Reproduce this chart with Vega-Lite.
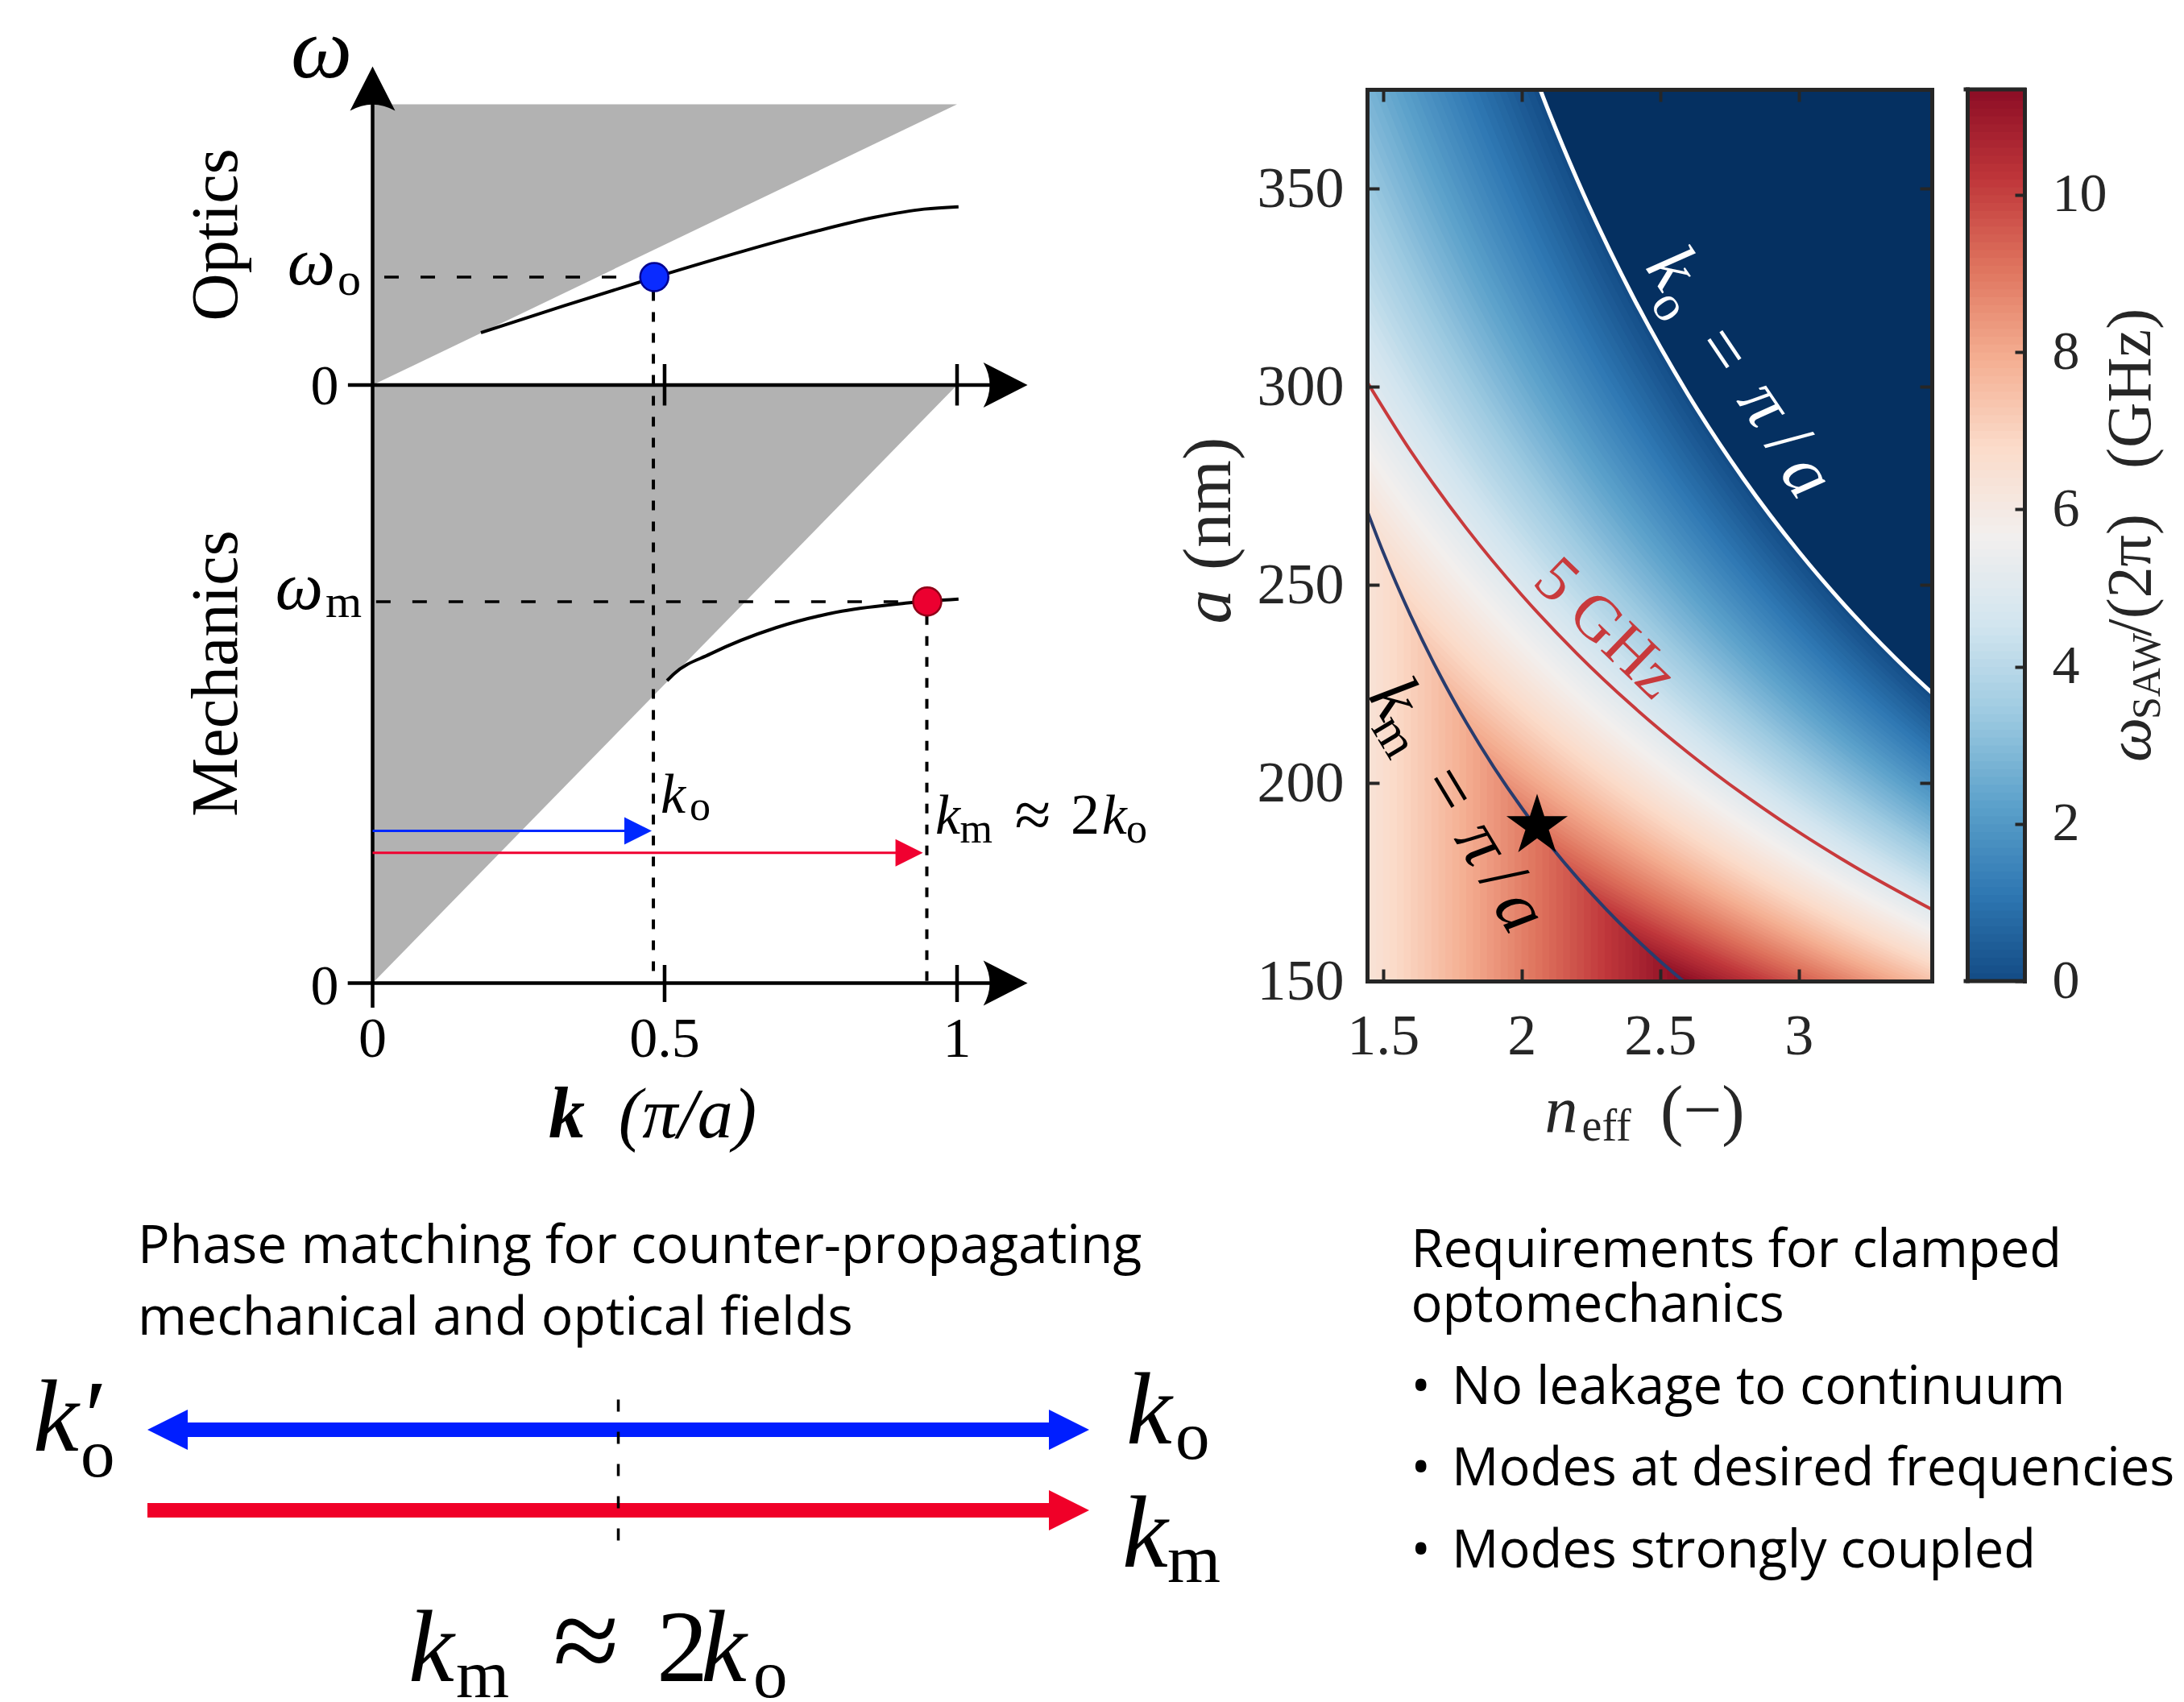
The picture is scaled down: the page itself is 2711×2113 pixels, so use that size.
{
"$schema":"https://vega.github.io/schema/vega-lite/v6.json",
"padding":0,
"background":"white",
"config":{"view":{"stroke":null},"axis":{"grid":false}},
"columns":2,
"spacing":0,
"bounds":"flush",
"concat":[
{"width":1697,"height":111,"data":{"values":[{"t":""}]},"mark":{"type":"text"},"encoding":{"text":{"field":"t"}}},
{"width":701,"height":111,"data":{"values":[{"t":""}]},"mark":{"type":"text"},"encoding":{"text":{"field":"t"}}},
{"width":1697,"height":1107,
"encoding":{"x":{"field":"x","type":"quantitative","scale":{"domain":[-0.6375,1.7016],"nice":false,"zero":false},"axis":null},
"y":{"field":"y","type":"quantitative","scale":{"domain":[0.003367,1.49428],"nice":false,"zero":false},"axis":null}},
"layer":[
{"data":{"values":[{"cone":"o","x":0,"y":1,"y2":1.4694},{"cone":"o","x":1,"y":1.4694,"y2":1.4694},{"cone":"m","x":0,"y":0,"y2":1},{"cone":"m","x":1,"y":1,"y2":1}]},
"mark":{"type":"area","color":"#b2b2b2","opacity":1},"encoding":{"y2":{"field":"y2"},"detail":{"field":"cone","type":"nominal"}}},
{"data":{"values":[{"x":0.4804,"x2":0.4804,"y":1.157,"y2":0},{"x":0.9483,"x2":0.9483,"y":0.615,"y2":0}]},
"mark":{"type":"rule","color":"black","strokeWidth":4,"strokeDash":[12,14]},"encoding":{"x2":{"field":"x2"},"y2":{"field":"y2"}}},
{"data":{"values":[{"x":0.02,"x2":0.43,"y":1.1805,"y2":1.1805},{"x":0.006,"x2":0.925,"y":0.6377,"y2":0.6377}]},
"mark":{"type":"rule","color":"black","strokeWidth":3.5,"strokeDash":[18,27]},"encoding":{"x2":{"field":"x2"},"y2":{"field":"y2"}}},
{"data":{"values":[{"band":"o","x":0.1854,"y":1.0875},{"band":"o","x":0.3274,"y":1.1324},{"band":"o","x":0.482,"y":1.1798},{"band":"o","x":0.6339,"y":1.2238},{"band":"o","x":0.7464,"y":1.254},{"band":"o","x":0.859,"y":1.2804},{"band":"o","x":0.9435,"y":1.2941},{"band":"o","x":1.0025,"y":1.298},
{"band":"m","x":0.5038,"y":0.5057},{"band":"m","x":0.5158,"y":0.5173},{"band":"m","x":0.5777,"y":0.5503},{"band":"m","x":0.6903,"y":0.5943},{"band":"m","x":0.8029,"y":0.6218},{"band":"m","x":0.9154,"y":0.6356},{"band":"m","x":1.0025,"y":0.6422}]},
"mark":{"type":"line","color":"black","strokeWidth":4,"interpolate":"monotone"},"encoding":{"detail":{"field":"band","type":"nominal"}}},
{"data":{"values":[{"x":0,"x2":0,"y":-0.041,"y2":1.5},{"x":-0.0422,"x2":1.09,"y":1,"y2":1},{"x":-0.0425,"x2":1.09,"y":0,"y2":0},{"x":0.4996,"x2":0.4996,"y":0.9657,"y2":1.035},{"x":1,"x2":1,"y":0.9657,"y2":1.035},{"x":0.4996,"x2":0.4996,"y":-0.0316,"y2":0.0303},{"x":1,"x2":1,"y":-0.0316,"y2":0.0303}]},
"mark":{"type":"rule","color":"black","strokeWidth":4.5},"encoding":{"x2":{"field":"x2"},"y2":{"field":"y2"}}},
{"data":{"values":[{"x":1.1207,"y":1},{"x":1.1207,"y":0}]},
"mark":{"type":"point","shape":"M0,0L-1.96,-1Q-1.4,0,-1.96,1Z","size":3136,"filled":true,"opacity":1,"color":"black","strokeWidth":0}},
{"data":{"values":[{"x":0,"y":1.5325}]},
"mark":{"type":"point","shape":"M0,0L-1,1.96Q0,1.4,1,1.96Z","size":3136,"filled":true,"opacity":1,"color":"black","strokeWidth":0}},
{"data":{"values":[{"x":0,"x2":0.455,"y":0.2545,"y2":0.2545}]},"mark":{"type":"rule","color":"#0028ff","strokeWidth":3},"encoding":{"x2":{"field":"x2"},"y2":{"field":"y2"}}},
{"data":{"values":[{"x":0,"x2":0.915,"y":0.218,"y2":0.218}]},"mark":{"type":"rule","color":"#f00030","strokeWidth":3},"encoding":{"x2":{"field":"x2"},"y2":{"field":"y2"}}},
{"data":{"values":[{"x":0.4776,"y":0.2545}]},"mark":{"type":"point","shape":"M0,0L-2,-1L-2,1Z","size":1156,"filled":true,"opacity":1,"color":"#0028ff","strokeWidth":0}},
{"data":{"values":[{"x":0.9415,"y":0.218}]},"mark":{"type":"point","shape":"M0,0L-2,-1L-2,1Z","size":1156,"filled":true,"opacity":1,"color":"#f00030","strokeWidth":0}},
{"data":{"values":[{"x":0.482,"y":1.1805}]},"mark":{"type":"point","shape":"circle","size":1225,"filled":true,"opacity":1,"fill":"#0a2bff","stroke":"#000090","strokeWidth":2.5}},
{"data":{"values":[{"x":0.949,"y":0.6382}]},"mark":{"type":"point","shape":"circle","size":1225,"filled":true,"opacity":1,"fill":"#ec0030","stroke":"#900018","strokeWidth":2.5}},
{"data":{"values":[{"x":-0.0875,"y":1.5145,"t":"ω"}]},"mark":{"type":"text","font":"Liberation Serif","fontSize":108,"fontStyle":"italic","align":"center","baseline":"alphabetic","color":"black"},"encoding":{"text":{"field":"t"}}},
{"data":{"values":[{"x":-0.0641,"y":1.1684,"t":"ω"},{"x":-0.0848,"y":0.6256,"t":"ω"}]},"mark":{"type":"text","font":"Liberation Serif","fontSize":84,"fontStyle":"italic","align":"right","baseline":"alphabetic","color":"black"},"encoding":{"text":{"field":"t"}}},
{"data":{"values":[{"x":-0.06,"y":1.1508,"t":"o"},{"x":-0.0806,"y":0.6121,"t":"m"}]},"mark":{"type":"text","font":"Liberation Serif","fontSize":58,"align":"left","baseline":"alphabetic","color":"black"},"encoding":{"text":{"field":"t"}}},
{"data":{"values":[{"x":-0.082,"y":0.9677,"t":"0"},{"x":-0.082,"y":-0.0357,"t":"0"},{"x":0,"y":-0.1232,"t":"0"},{"x":0.4996,"y":-0.1232,"t":"0.5"},{"x":1,"y":-0.1232,"t":"1"}]},"mark":{"type":"text","font":"Liberation Serif","fontSize":70,"align":"center","baseline":"alphabetic","color":"black"},"encoding":{"text":{"field":"t"}}},
{"data":{"values":[{"x":-0.2323,"y":1.2512,"t":"Optics"},{"x":-0.2323,"y":0.5178,"t":"Mechanics"}]},"mark":{"type":"text","font":"Liberation Serif","fontSize":82,"angle":270,"align":"center","baseline":"alphabetic","color":"black"},"encoding":{"text":{"field":"t"}}},
{"data":{"values":[{"x":0.4927,"y":0.2848,"t":"k"},{"x":0.9628,"y":0.2498,"t":"k"},{"x":1.2476,"y":0.2498,"t":"k"}]},"mark":{"type":"text","font":"Liberation Serif","fontSize":70,"fontStyle":"italic","align":"left","baseline":"alphabetic","color":"black"},"encoding":{"text":{"field":"t"}}},
{"data":{"values":[{"x":0.5424,"y":0.2734,"t":"o"},{"x":1.0048,"y":0.2356,"t":"m"},{"x":1.2894,"y":0.2356,"t":"o"}]},"mark":{"type":"text","font":"Liberation Serif","fontSize":52,"align":"left","baseline":"alphabetic","color":"black"},"encoding":{"text":{"field":"t"}}},
{"data":{"values":[{"x":1.0985,"y":0.2444,"t":"≈"}]},"mark":{"type":"text","font":"Liberation Serif","fontSize":82,"align":"left","baseline":"alphabetic","color":"black"},"encoding":{"text":{"field":"t"}}},
{"data":{"values":[{"x":1.1944,"y":0.2498,"t":"2"}]},"mark":{"type":"text","font":"Liberation Serif","fontSize":72,"align":"left","baseline":"alphabetic","color":"black"},"encoding":{"text":{"field":"t"}}},
{"data":{"values":[{"x":0.3012,"y":-0.2579,"t":"k"}]},"mark":{"type":"text","font":"Liberation Serif","fontSize":90,"fontStyle":"italic","fontWeight":"bold","align":"left","baseline":"alphabetic","color":"black"},"encoding":{"text":{"field":"t"}}},
{"data":{"values":[{"x":0.6568,"y":-0.2579,"t":"(π/a)"}]},"mark":{"type":"text","font":"Liberation Serif","fontSize":88,"fontStyle":"italic","align":"right","baseline":"alphabetic","color":"black"},"encoding":{"text":{"field":"t"}}}
]},
{"width":701,"height":1107,
"resolve":{"scale":{"x":"independent","y":"independent"},"axis":{"x":"independent","y":"independent"}},
"layer":[
{"resolve":{"axis":{"x":"independent","y":"independent"}},
"encoding":{"x":{"field":"n","type":"quantitative","scale":{"domain":[1.4427,3.4799],"nice":false,"zero":false},"axis":null},
"y":{"field":"a","type":"quantitative","scale":{"domain":[150,375],"nice":false,"zero":false},"axis":null}},
"layer":[
{"data":{"values":[{"n":1.4,"a":380},{"n":3.6,"a":380}]},"mark":{"type":"area","color":"#053061","clip":true,"opacity":1},"encoding":{"y2":{"datum":150}}},
{"data":{"values":[
{"j":0,"f":0.06,"n":1.4,"a":553.6},{"j":0,"f":0.06,"n":1.6,"a":484.4},{"j":0,"f":0.06,"n":1.8,"a":430.6},{"j":0,"f":0.06,"n":2,"a":387.5},{"j":0,"f":0.06,"n":2.2,"a":352.3},{"j":0,"f":0.06,"n":2.5,"a":310},{"j":0,"f":0.06,"n":2.8,"a":276.8},{"j":0,"f":0.06,"n":3.1,"a":250},{"j":0,"f":0.06,"n":3.5,"a":221.4},
{"j":0.5,"f":0.17,"n":1.375,"a":553.6},{"j":0.5,"f":0.17,"n":1.575,"a":484.4},{"j":0.5,"f":0.17,"n":1.775,"a":430.6},{"j":0.5,"f":0.17,"n":1.975,"a":387.5},{"j":0.5,"f":0.17,"n":2.175,"a":352.3},{"j":0.5,"f":0.17,"n":2.475,"a":310},{"j":0.5,"f":0.17,"n":2.775,"a":276.8},{"j":0.5,"f":0.17,"n":3.075,"a":250},{"j":0.5,"f":0.17,"n":3.475,"a":221.4},{"j":0.5,"f":0.17,"n":3.525,"a":218.3},
{"j":1,"f":0.28,"n":1.4,"a":534.5},{"j":1,"f":0.28,"n":1.6,"a":469.7},{"j":1,"f":0.28,"n":1.8,"a":418.9},{"j":1,"f":0.28,"n":2,"a":378},{"j":1,"f":0.28,"n":2.2,"a":344.4},{"j":1,"f":0.28,"n":2.5,"a":303.9},{"j":1,"f":0.28,"n":2.8,"a":271.9},{"j":1,"f":0.28,"n":3.1,"a":246},{"j":1,"f":0.28,"n":3.5,"a":218.3},
{"j":1.5,"f":0.39,"n":1.375,"a":534.5},{"j":1.5,"f":0.39,"n":1.575,"a":469.7},{"j":1.5,"f":0.39,"n":1.775,"a":418.9},{"j":1.5,"f":0.39,"n":1.975,"a":378},{"j":1.5,"f":0.39,"n":2.175,"a":344.4},{"j":1.5,"f":0.39,"n":2.475,"a":303.9},{"j":1.5,"f":0.39,"n":2.775,"a":271.9},{"j":1.5,"f":0.39,"n":3.075,"a":246},{"j":1.5,"f":0.39,"n":3.475,"a":218.3},{"j":1.5,"f":0.39,"n":3.525,"a":215.3},
{"j":2,"f":0.5,"n":1.4,"a":516.7},{"j":2,"f":0.5,"n":1.6,"a":455.9},{"j":2,"f":0.5,"n":1.8,"a":407.9},{"j":2,"f":0.5,"n":2,"a":369},{"j":2,"f":0.5,"n":2.2,"a":337},{"j":2,"f":0.5,"n":2.5,"a":298.1},{"j":2,"f":0.5,"n":2.8,"a":267.2},{"j":2,"f":0.5,"n":3.1,"a":242.2},{"j":2,"f":0.5,"n":3.5,"a":215.3},
{"j":2.5,"f":0.61,"n":1.375,"a":516.7},{"j":2.5,"f":0.61,"n":1.575,"a":455.9},{"j":2.5,"f":0.61,"n":1.775,"a":407.9},{"j":2.5,"f":0.61,"n":1.975,"a":369},{"j":2.5,"f":0.61,"n":2.175,"a":337},{"j":2.5,"f":0.61,"n":2.475,"a":298.1},{"j":2.5,"f":0.61,"n":2.775,"a":267.2},{"j":2.5,"f":0.61,"n":3.075,"a":242.2},{"j":2.5,"f":0.61,"n":3.475,"a":215.3},{"j":2.5,"f":0.61,"n":3.525,"a":212.3},
{"j":3,"f":0.72,"n":1.4,"a":500},{"j":3,"f":0.72,"n":1.6,"a":442.9},{"j":3,"f":0.72,"n":1.8,"a":397.4},{"j":3,"f":0.72,"n":2,"a":360.5},{"j":3,"f":0.72,"n":2.2,"a":329.8},{"j":3,"f":0.72,"n":2.5,"a":292.5},{"j":3,"f":0.72,"n":2.8,"a":262.7},{"j":3,"f":0.72,"n":3.1,"a":238.5},{"j":3,"f":0.72,"n":3.5,"a":212.3},
{"j":3.5,"f":0.83,"n":1.375,"a":500},{"j":3.5,"f":0.83,"n":1.575,"a":442.9},{"j":3.5,"f":0.83,"n":1.775,"a":397.4},{"j":3.5,"f":0.83,"n":1.975,"a":360.5},{"j":3.5,"f":0.83,"n":2.175,"a":329.8},{"j":3.5,"f":0.83,"n":2.475,"a":292.5},{"j":3.5,"f":0.83,"n":2.775,"a":262.7},{"j":3.5,"f":0.83,"n":3.075,"a":238.5},{"j":3.5,"f":0.83,"n":3.475,"a":212.3},{"j":3.5,"f":0.83,"n":3.525,"a":209.5},
{"j":4,"f":0.94,"n":1.4,"a":484.4},{"j":4,"f":0.94,"n":1.6,"a":430.6},{"j":4,"f":0.94,"n":1.8,"a":387.5},{"j":4,"f":0.94,"n":2,"a":352.3},{"j":4,"f":0.94,"n":2.2,"a":322.9},{"j":4,"f":0.94,"n":2.5,"a":287},{"j":4,"f":0.94,"n":2.8,"a":258.3},{"j":4,"f":0.94,"n":3.1,"a":234.8},{"j":4,"f":0.94,"n":3.5,"a":209.5},
{"j":4.5,"f":1.05,"n":1.375,"a":484.4},{"j":4.5,"f":1.05,"n":1.575,"a":430.6},{"j":4.5,"f":1.05,"n":1.775,"a":387.5},{"j":4.5,"f":1.05,"n":1.975,"a":352.3},{"j":4.5,"f":1.05,"n":2.175,"a":322.9},{"j":4.5,"f":1.05,"n":2.475,"a":287},{"j":4.5,"f":1.05,"n":2.775,"a":258.3},{"j":4.5,"f":1.05,"n":3.075,"a":234.8},{"j":4.5,"f":1.05,"n":3.475,"a":209.5},{"j":4.5,"f":1.05,"n":3.525,"a":206.7},
{"j":5,"f":1.16,"n":1.4,"a":469.7},{"j":5,"f":1.16,"n":1.6,"a":418.9},{"j":5,"f":1.16,"n":1.8,"a":378},{"j":5,"f":1.16,"n":2,"a":344.4},{"j":5,"f":1.16,"n":2.2,"a":316.3},{"j":5,"f":1.16,"n":2.5,"a":281.8},{"j":5,"f":1.16,"n":2.8,"a":254.1},{"j":5,"f":1.16,"n":3.1,"a":231.3},{"j":5,"f":1.16,"n":3.5,"a":206.7},
{"j":5.5,"f":1.27,"n":1.375,"a":469.7},{"j":5.5,"f":1.27,"n":1.575,"a":418.9},{"j":5.5,"f":1.27,"n":1.775,"a":378},{"j":5.5,"f":1.27,"n":1.975,"a":344.4},{"j":5.5,"f":1.27,"n":2.175,"a":316.3},{"j":5.5,"f":1.27,"n":2.475,"a":281.8},{"j":5.5,"f":1.27,"n":2.775,"a":254.1},{"j":5.5,"f":1.27,"n":3.075,"a":231.3},{"j":5.5,"f":1.27,"n":3.475,"a":206.7},{"j":5.5,"f":1.27,"n":3.525,"a":203.9},
{"j":6,"f":1.38,"n":1.4,"a":455.9},{"j":6,"f":1.38,"n":1.6,"a":407.9},{"j":6,"f":1.38,"n":1.8,"a":369},{"j":6,"f":1.38,"n":2,"a":337},{"j":6,"f":1.38,"n":2.2,"a":310},{"j":6,"f":1.38,"n":2.5,"a":276.8},{"j":6,"f":1.38,"n":2.8,"a":250},{"j":6,"f":1.38,"n":3.1,"a":227.9},{"j":6,"f":1.38,"n":3.5,"a":203.9},
{"j":6.5,"f":1.49,"n":1.375,"a":455.9},{"j":6.5,"f":1.49,"n":1.575,"a":407.9},{"j":6.5,"f":1.49,"n":1.775,"a":369},{"j":6.5,"f":1.49,"n":1.975,"a":337},{"j":6.5,"f":1.49,"n":2.175,"a":310},{"j":6.5,"f":1.49,"n":2.475,"a":276.8},{"j":6.5,"f":1.49,"n":2.775,"a":250},{"j":6.5,"f":1.49,"n":3.075,"a":227.9},{"j":6.5,"f":1.49,"n":3.475,"a":203.9},{"j":6.5,"f":1.49,"n":3.525,"a":201.3},
{"j":7,"f":1.6,"n":1.4,"a":442.9},{"j":7,"f":1.6,"n":1.6,"a":397.4},{"j":7,"f":1.6,"n":1.8,"a":360.5},{"j":7,"f":1.6,"n":2,"a":329.8},{"j":7,"f":1.6,"n":2.2,"a":303.9},{"j":7,"f":1.6,"n":2.5,"a":271.9},{"j":7,"f":1.6,"n":2.8,"a":246},{"j":7,"f":1.6,"n":3.1,"a":224.6},{"j":7,"f":1.6,"n":3.5,"a":201.3},
{"j":7.5,"f":1.71,"n":1.375,"a":442.9},{"j":7.5,"f":1.71,"n":1.575,"a":397.4},{"j":7.5,"f":1.71,"n":1.775,"a":360.5},{"j":7.5,"f":1.71,"n":1.975,"a":329.8},{"j":7.5,"f":1.71,"n":2.175,"a":303.9},{"j":7.5,"f":1.71,"n":2.475,"a":271.9},{"j":7.5,"f":1.71,"n":2.775,"a":246},{"j":7.5,"f":1.71,"n":3.075,"a":224.6},{"j":7.5,"f":1.71,"n":3.475,"a":201.3},{"j":7.5,"f":1.71,"n":3.525,"a":198.7},
{"j":8,"f":1.82,"n":1.4,"a":430.6},{"j":8,"f":1.82,"n":1.6,"a":387.5},{"j":8,"f":1.82,"n":1.8,"a":352.3},{"j":8,"f":1.82,"n":2,"a":322.9},{"j":8,"f":1.82,"n":2.2,"a":298.1},{"j":8,"f":1.82,"n":2.5,"a":267.2},{"j":8,"f":1.82,"n":2.8,"a":242.2},{"j":8,"f":1.82,"n":3.1,"a":221.4},{"j":8,"f":1.82,"n":3.5,"a":198.7},
{"j":8.5,"f":1.93,"n":1.375,"a":430.6},{"j":8.5,"f":1.93,"n":1.575,"a":387.5},{"j":8.5,"f":1.93,"n":1.775,"a":352.3},{"j":8.5,"f":1.93,"n":1.975,"a":322.9},{"j":8.5,"f":1.93,"n":2.175,"a":298.1},{"j":8.5,"f":1.93,"n":2.475,"a":267.2},{"j":8.5,"f":1.93,"n":2.775,"a":242.2},{"j":8.5,"f":1.93,"n":3.075,"a":221.4},{"j":8.5,"f":1.93,"n":3.475,"a":198.7},{"j":8.5,"f":1.93,"n":3.525,"a":196.2},
{"j":9,"f":2.04,"n":1.4,"a":418.9},{"j":9,"f":2.04,"n":1.6,"a":378},{"j":9,"f":2.04,"n":1.8,"a":344.4},{"j":9,"f":2.04,"n":2,"a":316.3},{"j":9,"f":2.04,"n":2.2,"a":292.5},{"j":9,"f":2.04,"n":2.5,"a":262.7},{"j":9,"f":2.04,"n":2.8,"a":238.5},{"j":9,"f":2.04,"n":3.1,"a":218.3},{"j":9,"f":2.04,"n":3.5,"a":196.2},
{"j":9.5,"f":2.15,"n":1.375,"a":418.9},{"j":9.5,"f":2.15,"n":1.575,"a":378},{"j":9.5,"f":2.15,"n":1.775,"a":344.4},{"j":9.5,"f":2.15,"n":1.975,"a":316.3},{"j":9.5,"f":2.15,"n":2.175,"a":292.5},{"j":9.5,"f":2.15,"n":2.475,"a":262.7},{"j":9.5,"f":2.15,"n":2.775,"a":238.5},{"j":9.5,"f":2.15,"n":3.075,"a":218.3},{"j":9.5,"f":2.15,"n":3.475,"a":196.2},{"j":9.5,"f":2.15,"n":3.525,"a":193.8},
{"j":10,"f":2.26,"n":1.4,"a":407.9},{"j":10,"f":2.26,"n":1.6,"a":369},{"j":10,"f":2.26,"n":1.8,"a":337},{"j":10,"f":2.26,"n":2,"a":310},{"j":10,"f":2.26,"n":2.2,"a":287},{"j":10,"f":2.26,"n":2.5,"a":258.3},{"j":10,"f":2.26,"n":2.8,"a":234.8},{"j":10,"f":2.26,"n":3.1,"a":215.3},{"j":10,"f":2.26,"n":3.5,"a":193.8},
{"j":10.5,"f":2.38,"n":1.375,"a":407.9},{"j":10.5,"f":2.38,"n":1.575,"a":369},{"j":10.5,"f":2.38,"n":1.775,"a":337},{"j":10.5,"f":2.38,"n":1.975,"a":310},{"j":10.5,"f":2.38,"n":2.175,"a":287},{"j":10.5,"f":2.38,"n":2.475,"a":258.3},{"j":10.5,"f":2.38,"n":2.775,"a":234.8},{"j":10.5,"f":2.38,"n":3.075,"a":215.3},{"j":10.5,"f":2.38,"n":3.475,"a":193.8},{"j":10.5,"f":2.38,"n":3.525,"a":191.4},
{"j":11,"f":2.48,"n":1.4,"a":397.4},{"j":11,"f":2.48,"n":1.6,"a":360.5},{"j":11,"f":2.48,"n":1.8,"a":329.8},{"j":11,"f":2.48,"n":2,"a":303.9},{"j":11,"f":2.48,"n":2.2,"a":281.8},{"j":11,"f":2.48,"n":2.5,"a":254.1},{"j":11,"f":2.48,"n":2.8,"a":231.3},{"j":11,"f":2.48,"n":3.1,"a":212.3},{"j":11,"f":2.48,"n":3.5,"a":191.4},
{"j":11.5,"f":2.6,"n":1.375,"a":397.4},{"j":11.5,"f":2.6,"n":1.575,"a":360.5},{"j":11.5,"f":2.6,"n":1.775,"a":329.8},{"j":11.5,"f":2.6,"n":1.975,"a":303.9},{"j":11.5,"f":2.6,"n":2.175,"a":281.8},{"j":11.5,"f":2.6,"n":2.475,"a":254.1},{"j":11.5,"f":2.6,"n":2.775,"a":231.3},{"j":11.5,"f":2.6,"n":3.075,"a":212.3},{"j":11.5,"f":2.6,"n":3.475,"a":191.4},{"j":11.5,"f":2.6,"n":3.525,"a":189},
{"j":12,"f":2.71,"n":1.4,"a":387.5},{"j":12,"f":2.71,"n":1.6,"a":352.3},{"j":12,"f":2.71,"n":1.8,"a":322.9},{"j":12,"f":2.71,"n":2,"a":298.1},{"j":12,"f":2.71,"n":2.2,"a":276.8},{"j":12,"f":2.71,"n":2.5,"a":250},{"j":12,"f":2.71,"n":2.8,"a":227.9},{"j":12,"f":2.71,"n":3.1,"a":209.5},{"j":12,"f":2.71,"n":3.5,"a":189},
{"j":12.5,"f":2.82,"n":1.375,"a":387.5},{"j":12.5,"f":2.82,"n":1.575,"a":352.3},{"j":12.5,"f":2.82,"n":1.775,"a":322.9},{"j":12.5,"f":2.82,"n":1.975,"a":298.1},{"j":12.5,"f":2.82,"n":2.175,"a":276.8},{"j":12.5,"f":2.82,"n":2.475,"a":250},{"j":12.5,"f":2.82,"n":2.775,"a":227.9},{"j":12.5,"f":2.82,"n":3.075,"a":209.5},{"j":12.5,"f":2.82,"n":3.475,"a":189},{"j":12.5,"f":2.82,"n":3.525,"a":186.7},
{"j":13,"f":2.93,"n":1.4,"a":378},{"j":13,"f":2.93,"n":1.6,"a":344.4},{"j":13,"f":2.93,"n":1.8,"a":316.3},{"j":13,"f":2.93,"n":2,"a":292.5},{"j":13,"f":2.93,"n":2.2,"a":271.9},{"j":13,"f":2.93,"n":2.5,"a":246},{"j":13,"f":2.93,"n":2.8,"a":224.6},{"j":13,"f":2.93,"n":3.1,"a":206.7},{"j":13,"f":2.93,"n":3.5,"a":186.7},
{"j":13.5,"f":3.04,"n":1.375,"a":378},{"j":13.5,"f":3.04,"n":1.575,"a":344.4},{"j":13.5,"f":3.04,"n":1.775,"a":316.3},{"j":13.5,"f":3.04,"n":1.975,"a":292.5},{"j":13.5,"f":3.04,"n":2.175,"a":271.9},{"j":13.5,"f":3.04,"n":2.475,"a":246},{"j":13.5,"f":3.04,"n":2.775,"a":224.6},{"j":13.5,"f":3.04,"n":3.075,"a":206.7},{"j":13.5,"f":3.04,"n":3.475,"a":186.7},{"j":13.5,"f":3.04,"n":3.525,"a":184.5},
{"j":14,"f":3.15,"n":1.4,"a":369},{"j":14,"f":3.15,"n":1.6,"a":337},{"j":14,"f":3.15,"n":1.8,"a":310},{"j":14,"f":3.15,"n":2,"a":287},{"j":14,"f":3.15,"n":2.2,"a":267.2},{"j":14,"f":3.15,"n":2.5,"a":242.2},{"j":14,"f":3.15,"n":2.8,"a":221.4},{"j":14,"f":3.15,"n":3.1,"a":203.9},{"j":14,"f":3.15,"n":3.5,"a":184.5},
{"j":14.5,"f":3.26,"n":1.375,"a":369},{"j":14.5,"f":3.26,"n":1.575,"a":337},{"j":14.5,"f":3.26,"n":1.775,"a":310},{"j":14.5,"f":3.26,"n":1.975,"a":287},{"j":14.5,"f":3.26,"n":2.175,"a":267.2},{"j":14.5,"f":3.26,"n":2.475,"a":242.2},{"j":14.5,"f":3.26,"n":2.775,"a":221.4},{"j":14.5,"f":3.26,"n":3.075,"a":203.9},{"j":14.5,"f":3.26,"n":3.475,"a":184.5},{"j":14.5,"f":3.26,"n":3.525,"a":182.4},
{"j":15,"f":3.37,"n":1.4,"a":360.5},{"j":15,"f":3.37,"n":1.6,"a":329.8},{"j":15,"f":3.37,"n":1.8,"a":303.9},{"j":15,"f":3.37,"n":2,"a":281.8},{"j":15,"f":3.37,"n":2.2,"a":262.7},{"j":15,"f":3.37,"n":2.5,"a":238.5},{"j":15,"f":3.37,"n":2.8,"a":218.3},{"j":15,"f":3.37,"n":3.1,"a":201.3},{"j":15,"f":3.37,"n":3.5,"a":182.4},
{"j":15.5,"f":3.48,"n":1.375,"a":360.5},{"j":15.5,"f":3.48,"n":1.575,"a":329.8},{"j":15.5,"f":3.48,"n":1.775,"a":303.9},{"j":15.5,"f":3.48,"n":1.975,"a":281.8},{"j":15.5,"f":3.48,"n":2.175,"a":262.7},{"j":15.5,"f":3.48,"n":2.475,"a":238.5},{"j":15.5,"f":3.48,"n":2.775,"a":218.3},{"j":15.5,"f":3.48,"n":3.075,"a":201.3},{"j":15.5,"f":3.48,"n":3.475,"a":182.4},{"j":15.5,"f":3.48,"n":3.525,"a":180.2},
{"j":16,"f":3.59,"n":1.4,"a":352.3},{"j":16,"f":3.59,"n":1.6,"a":322.9},{"j":16,"f":3.59,"n":1.8,"a":298.1},{"j":16,"f":3.59,"n":2,"a":276.8},{"j":16,"f":3.59,"n":2.2,"a":258.3},{"j":16,"f":3.59,"n":2.5,"a":234.8},{"j":16,"f":3.59,"n":2.8,"a":215.3},{"j":16,"f":3.59,"n":3.1,"a":198.7},{"j":16,"f":3.59,"n":3.5,"a":180.2},
{"j":16.5,"f":3.7,"n":1.375,"a":352.3},{"j":16.5,"f":3.7,"n":1.575,"a":322.9},{"j":16.5,"f":3.7,"n":1.775,"a":298.1},{"j":16.5,"f":3.7,"n":1.975,"a":276.8},{"j":16.5,"f":3.7,"n":2.175,"a":258.3},{"j":16.5,"f":3.7,"n":2.475,"a":234.8},{"j":16.5,"f":3.7,"n":2.775,"a":215.3},{"j":16.5,"f":3.7,"n":3.075,"a":198.7},{"j":16.5,"f":3.7,"n":3.475,"a":180.2},{"j":16.5,"f":3.7,"n":3.525,"a":178.2},
{"j":17,"f":3.81,"n":1.4,"a":344.4},{"j":17,"f":3.81,"n":1.6,"a":316.3},{"j":17,"f":3.81,"n":1.8,"a":292.5},{"j":17,"f":3.81,"n":2,"a":271.9},{"j":17,"f":3.81,"n":2.2,"a":254.1},{"j":17,"f":3.81,"n":2.5,"a":231.3},{"j":17,"f":3.81,"n":2.8,"a":212.3},{"j":17,"f":3.81,"n":3.1,"a":196.2},{"j":17,"f":3.81,"n":3.5,"a":178.2},
{"j":17.5,"f":3.92,"n":1.375,"a":344.4},{"j":17.5,"f":3.92,"n":1.575,"a":316.3},{"j":17.5,"f":3.92,"n":1.775,"a":292.5},{"j":17.5,"f":3.92,"n":1.975,"a":271.9},{"j":17.5,"f":3.92,"n":2.175,"a":254.1},{"j":17.5,"f":3.92,"n":2.475,"a":231.3},{"j":17.5,"f":3.92,"n":2.775,"a":212.3},{"j":17.5,"f":3.92,"n":3.075,"a":196.2},{"j":17.5,"f":3.92,"n":3.475,"a":178.2},{"j":17.5,"f":3.92,"n":3.525,"a":176.1},
{"j":18,"f":4.03,"n":1.4,"a":337},{"j":18,"f":4.03,"n":1.6,"a":310},{"j":18,"f":4.03,"n":1.8,"a":287},{"j":18,"f":4.03,"n":2,"a":267.2},{"j":18,"f":4.03,"n":2.2,"a":250},{"j":18,"f":4.03,"n":2.5,"a":227.9},{"j":18,"f":4.03,"n":2.8,"a":209.5},{"j":18,"f":4.03,"n":3.1,"a":193.8},{"j":18,"f":4.03,"n":3.5,"a":176.1},
{"j":18.5,"f":4.14,"n":1.375,"a":337},{"j":18.5,"f":4.14,"n":1.575,"a":310},{"j":18.5,"f":4.14,"n":1.775,"a":287},{"j":18.5,"f":4.14,"n":1.975,"a":267.2},{"j":18.5,"f":4.14,"n":2.175,"a":250},{"j":18.5,"f":4.14,"n":2.475,"a":227.9},{"j":18.5,"f":4.14,"n":2.775,"a":209.5},{"j":18.5,"f":4.14,"n":3.075,"a":193.8},{"j":18.5,"f":4.14,"n":3.475,"a":176.1},{"j":18.5,"f":4.14,"n":3.525,"a":174.2},
{"j":19,"f":4.25,"n":1.4,"a":329.8},{"j":19,"f":4.25,"n":1.6,"a":303.9},{"j":19,"f":4.25,"n":1.8,"a":281.8},{"j":19,"f":4.25,"n":2,"a":262.7},{"j":19,"f":4.25,"n":2.2,"a":246},{"j":19,"f":4.25,"n":2.5,"a":224.6},{"j":19,"f":4.25,"n":2.8,"a":206.7},{"j":19,"f":4.25,"n":3.1,"a":191.4},{"j":19,"f":4.25,"n":3.5,"a":174.2},
{"j":19.5,"f":4.36,"n":1.375,"a":329.8},{"j":19.5,"f":4.36,"n":1.575,"a":303.9},{"j":19.5,"f":4.36,"n":1.775,"a":281.8},{"j":19.5,"f":4.36,"n":1.975,"a":262.7},{"j":19.5,"f":4.36,"n":2.175,"a":246},{"j":19.5,"f":4.36,"n":2.475,"a":224.6},{"j":19.5,"f":4.36,"n":2.775,"a":206.7},{"j":19.5,"f":4.36,"n":3.075,"a":191.4},{"j":19.5,"f":4.36,"n":3.475,"a":174.2},{"j":19.5,"f":4.36,"n":3.525,"a":172.2},
{"j":20,"f":4.47,"n":1.4,"a":322.9},{"j":20,"f":4.47,"n":1.6,"a":298.1},{"j":20,"f":4.47,"n":1.8,"a":276.8},{"j":20,"f":4.47,"n":2,"a":258.3},{"j":20,"f":4.47,"n":2.2,"a":242.2},{"j":20,"f":4.47,"n":2.5,"a":221.4},{"j":20,"f":4.47,"n":2.8,"a":203.9},{"j":20,"f":4.47,"n":3.1,"a":189},{"j":20,"f":4.47,"n":3.5,"a":172.2},
{"j":20.5,"f":4.58,"n":1.375,"a":322.9},{"j":20.5,"f":4.58,"n":1.575,"a":298.1},{"j":20.5,"f":4.58,"n":1.775,"a":276.8},{"j":20.5,"f":4.58,"n":1.975,"a":258.3},{"j":20.5,"f":4.58,"n":2.175,"a":242.2},{"j":20.5,"f":4.58,"n":2.475,"a":221.4},{"j":20.5,"f":4.58,"n":2.775,"a":203.9},{"j":20.5,"f":4.58,"n":3.075,"a":189},{"j":20.5,"f":4.58,"n":3.475,"a":172.2},{"j":20.5,"f":4.58,"n":3.525,"a":170.3},
{"j":21,"f":4.69,"n":1.4,"a":316.3},{"j":21,"f":4.69,"n":1.6,"a":292.5},{"j":21,"f":4.69,"n":1.8,"a":271.9},{"j":21,"f":4.69,"n":2,"a":254.1},{"j":21,"f":4.69,"n":2.2,"a":238.5},{"j":21,"f":4.69,"n":2.5,"a":218.3},{"j":21,"f":4.69,"n":2.8,"a":201.3},{"j":21,"f":4.69,"n":3.1,"a":186.7},{"j":21,"f":4.69,"n":3.5,"a":170.3},
{"j":21.5,"f":4.8,"n":1.375,"a":316.3},{"j":21.5,"f":4.8,"n":1.575,"a":292.5},{"j":21.5,"f":4.8,"n":1.775,"a":271.9},{"j":21.5,"f":4.8,"n":1.975,"a":254.1},{"j":21.5,"f":4.8,"n":2.175,"a":238.5},{"j":21.5,"f":4.8,"n":2.475,"a":218.3},{"j":21.5,"f":4.8,"n":2.775,"a":201.3},{"j":21.5,"f":4.8,"n":3.075,"a":186.7},{"j":21.5,"f":4.8,"n":3.475,"a":170.3},{"j":21.5,"f":4.8,"n":3.525,"a":168.5},
{"j":22,"f":4.91,"n":1.4,"a":310},{"j":22,"f":4.91,"n":1.6,"a":287},{"j":22,"f":4.91,"n":1.8,"a":267.2},{"j":22,"f":4.91,"n":2,"a":250},{"j":22,"f":4.91,"n":2.2,"a":234.8},{"j":22,"f":4.91,"n":2.5,"a":215.3},{"j":22,"f":4.91,"n":2.8,"a":198.7},{"j":22,"f":4.91,"n":3.1,"a":184.5},{"j":22,"f":4.91,"n":3.5,"a":168.5},
{"j":22.5,"f":5.03,"n":1.375,"a":310},{"j":22.5,"f":5.03,"n":1.575,"a":287},{"j":22.5,"f":5.03,"n":1.775,"a":267.2},{"j":22.5,"f":5.03,"n":1.975,"a":250},{"j":22.5,"f":5.03,"n":2.175,"a":234.8},{"j":22.5,"f":5.03,"n":2.475,"a":215.3},{"j":22.5,"f":5.03,"n":2.775,"a":198.7},{"j":22.5,"f":5.03,"n":3.075,"a":184.5},{"j":22.5,"f":5.03,"n":3.475,"a":168.5},{"j":22.5,"f":5.03,"n":3.525,"a":166.7},
{"j":23,"f":5.14,"n":1.4,"a":303.9},{"j":23,"f":5.14,"n":1.6,"a":281.8},{"j":23,"f":5.14,"n":1.8,"a":262.7},{"j":23,"f":5.14,"n":2,"a":246},{"j":23,"f":5.14,"n":2.2,"a":231.3},{"j":23,"f":5.14,"n":2.5,"a":212.3},{"j":23,"f":5.14,"n":2.8,"a":196.2},{"j":23,"f":5.14,"n":3.1,"a":182.4},{"j":23,"f":5.14,"n":3.5,"a":166.7},
{"j":23.5,"f":5.25,"n":1.375,"a":303.9},{"j":23.5,"f":5.25,"n":1.575,"a":281.8},{"j":23.5,"f":5.25,"n":1.775,"a":262.7},{"j":23.5,"f":5.25,"n":1.975,"a":246},{"j":23.5,"f":5.25,"n":2.175,"a":231.3},{"j":23.5,"f":5.25,"n":2.475,"a":212.3},{"j":23.5,"f":5.25,"n":2.775,"a":196.2},{"j":23.5,"f":5.25,"n":3.075,"a":182.4},{"j":23.5,"f":5.25,"n":3.475,"a":166.7},{"j":23.5,"f":5.25,"n":3.525,"a":164.9},
{"j":24,"f":5.36,"n":1.4,"a":298.1},{"j":24,"f":5.36,"n":1.6,"a":276.8},{"j":24,"f":5.36,"n":1.8,"a":258.3},{"j":24,"f":5.36,"n":2,"a":242.2},{"j":24,"f":5.36,"n":2.2,"a":227.9},{"j":24,"f":5.36,"n":2.5,"a":209.5},{"j":24,"f":5.36,"n":2.8,"a":193.8},{"j":24,"f":5.36,"n":3.1,"a":180.2},{"j":24,"f":5.36,"n":3.5,"a":164.9},
{"j":24.5,"f":5.47,"n":1.375,"a":298.1},{"j":24.5,"f":5.47,"n":1.575,"a":276.8},{"j":24.5,"f":5.47,"n":1.775,"a":258.3},{"j":24.5,"f":5.47,"n":1.975,"a":242.2},{"j":24.5,"f":5.47,"n":2.175,"a":227.9},{"j":24.5,"f":5.47,"n":2.475,"a":209.5},{"j":24.5,"f":5.47,"n":2.775,"a":193.8},{"j":24.5,"f":5.47,"n":3.075,"a":180.2},{"j":24.5,"f":5.47,"n":3.475,"a":164.9},{"j":24.5,"f":5.47,"n":3.525,"a":163.2},
{"j":25,"f":5.58,"n":1.4,"a":292.5},{"j":25,"f":5.58,"n":1.6,"a":271.9},{"j":25,"f":5.58,"n":1.8,"a":254.1},{"j":25,"f":5.58,"n":2,"a":238.5},{"j":25,"f":5.58,"n":2.2,"a":224.6},{"j":25,"f":5.58,"n":2.5,"a":206.7},{"j":25,"f":5.58,"n":2.8,"a":191.4},{"j":25,"f":5.58,"n":3.1,"a":178.2},{"j":25,"f":5.58,"n":3.5,"a":163.2},
{"j":25.5,"f":5.69,"n":1.375,"a":292.5},{"j":25.5,"f":5.69,"n":1.575,"a":271.9},{"j":25.5,"f":5.69,"n":1.775,"a":254.1},{"j":25.5,"f":5.69,"n":1.975,"a":238.5},{"j":25.5,"f":5.69,"n":2.175,"a":224.6},{"j":25.5,"f":5.69,"n":2.475,"a":206.7},{"j":25.5,"f":5.69,"n":2.775,"a":191.4},{"j":25.5,"f":5.69,"n":3.075,"a":178.2},{"j":25.5,"f":5.69,"n":3.475,"a":163.2},{"j":25.5,"f":5.69,"n":3.525,"a":161.5},
{"j":26,"f":5.8,"n":1.4,"a":287},{"j":26,"f":5.8,"n":1.6,"a":267.2},{"j":26,"f":5.8,"n":1.8,"a":250},{"j":26,"f":5.8,"n":2,"a":234.8},{"j":26,"f":5.8,"n":2.2,"a":221.4},{"j":26,"f":5.8,"n":2.5,"a":203.9},{"j":26,"f":5.8,"n":2.8,"a":189},{"j":26,"f":5.8,"n":3.1,"a":176.1},{"j":26,"f":5.8,"n":3.5,"a":161.5},
{"j":26.5,"f":5.91,"n":1.375,"a":287},{"j":26.5,"f":5.91,"n":1.575,"a":267.2},{"j":26.5,"f":5.91,"n":1.775,"a":250},{"j":26.5,"f":5.91,"n":1.975,"a":234.8},{"j":26.5,"f":5.91,"n":2.175,"a":221.4},{"j":26.5,"f":5.91,"n":2.475,"a":203.9},{"j":26.5,"f":5.91,"n":2.775,"a":189},{"j":26.5,"f":5.91,"n":3.075,"a":176.1},{"j":26.5,"f":5.91,"n":3.475,"a":161.5},{"j":26.5,"f":5.91,"n":3.525,"a":159.8},
{"j":27,"f":6.02,"n":1.4,"a":281.8},{"j":27,"f":6.02,"n":1.6,"a":262.7},{"j":27,"f":6.02,"n":1.8,"a":246},{"j":27,"f":6.02,"n":2,"a":231.3},{"j":27,"f":6.02,"n":2.2,"a":218.3},{"j":27,"f":6.02,"n":2.5,"a":201.3},{"j":27,"f":6.02,"n":2.8,"a":186.7},{"j":27,"f":6.02,"n":3.1,"a":174.2},{"j":27,"f":6.02,"n":3.5,"a":159.8},
{"j":27.5,"f":6.13,"n":1.375,"a":281.8},{"j":27.5,"f":6.13,"n":1.575,"a":262.7},{"j":27.5,"f":6.13,"n":1.775,"a":246},{"j":27.5,"f":6.13,"n":1.975,"a":231.3},{"j":27.5,"f":6.13,"n":2.175,"a":218.3},{"j":27.5,"f":6.13,"n":2.475,"a":201.3},{"j":27.5,"f":6.13,"n":2.775,"a":186.7},{"j":27.5,"f":6.13,"n":3.075,"a":174.2},{"j":27.5,"f":6.13,"n":3.475,"a":159.8},{"j":27.5,"f":6.13,"n":3.525,"a":158.2},
{"j":28,"f":6.24,"n":1.4,"a":276.8},{"j":28,"f":6.24,"n":1.6,"a":258.3},{"j":28,"f":6.24,"n":1.8,"a":242.2},{"j":28,"f":6.24,"n":2,"a":227.9},{"j":28,"f":6.24,"n":2.2,"a":215.3},{"j":28,"f":6.24,"n":2.5,"a":198.7},{"j":28,"f":6.24,"n":2.8,"a":184.5},{"j":28,"f":6.24,"n":3.1,"a":172.2},{"j":28,"f":6.24,"n":3.5,"a":158.2},
{"j":28.5,"f":6.35,"n":1.425,"a":271.9},{"j":28.5,"f":6.35,"n":1.575,"a":258.3},{"j":28.5,"f":6.35,"n":1.775,"a":242.2},{"j":28.5,"f":6.35,"n":1.975,"a":227.9},{"j":28.5,"f":6.35,"n":2.175,"a":215.3},{"j":28.5,"f":6.35,"n":2.475,"a":198.7},{"j":28.5,"f":6.35,"n":2.775,"a":184.5},{"j":28.5,"f":6.35,"n":3.075,"a":172.2},{"j":28.5,"f":6.35,"n":3.475,"a":158.2},{"j":28.5,"f":6.35,"n":3.525,"a":156.6},
{"j":29,"f":6.46,"n":1.45,"a":267.2},{"j":29,"f":6.46,"n":1.6,"a":254.1},{"j":29,"f":6.46,"n":1.8,"a":238.5},{"j":29,"f":6.46,"n":2,"a":224.6},{"j":29,"f":6.46,"n":2.2,"a":212.3},{"j":29,"f":6.46,"n":2.5,"a":196.2},{"j":29,"f":6.46,"n":2.8,"a":182.4},{"j":29,"f":6.46,"n":3.1,"a":170.3},{"j":29,"f":6.46,"n":3.5,"a":156.6},
{"j":29.5,"f":6.57,"n":1.475,"a":262.7},{"j":29.5,"f":6.57,"n":1.575,"a":254.1},{"j":29.5,"f":6.57,"n":1.775,"a":238.5},{"j":29.5,"f":6.57,"n":1.975,"a":224.6},{"j":29.5,"f":6.57,"n":2.175,"a":212.3},{"j":29.5,"f":6.57,"n":2.475,"a":196.2},{"j":29.5,"f":6.57,"n":2.775,"a":182.4},{"j":29.5,"f":6.57,"n":3.075,"a":170.3},{"j":29.5,"f":6.57,"n":3.475,"a":156.6},{"j":29.5,"f":6.57,"n":3.525,"a":155},
{"j":30,"f":6.68,"n":1.5,"a":258.3},{"j":30,"f":6.68,"n":1.6,"a":250},{"j":30,"f":6.68,"n":1.8,"a":234.8},{"j":30,"f":6.68,"n":2,"a":221.4},{"j":30,"f":6.68,"n":2.2,"a":209.5},{"j":30,"f":6.68,"n":2.5,"a":193.8},{"j":30,"f":6.68,"n":2.8,"a":180.2},{"j":30,"f":6.68,"n":3.1,"a":168.5},{"j":30,"f":6.68,"n":3.5,"a":155},
{"j":30.5,"f":6.79,"n":1.525,"a":254.1},{"j":30.5,"f":6.79,"n":1.575,"a":250},{"j":30.5,"f":6.79,"n":1.775,"a":234.8},{"j":30.5,"f":6.79,"n":1.975,"a":221.4},{"j":30.5,"f":6.79,"n":2.175,"a":209.5},{"j":30.5,"f":6.79,"n":2.475,"a":193.8},{"j":30.5,"f":6.79,"n":2.775,"a":180.2},{"j":30.5,"f":6.79,"n":3.075,"a":168.5},{"j":30.5,"f":6.79,"n":3.475,"a":155},{"j":30.5,"f":6.79,"n":3.525,"a":153.5},
{"j":31,"f":6.9,"n":1.55,"a":250},{"j":31,"f":6.9,"n":1.6,"a":246},{"j":31,"f":6.9,"n":1.8,"a":231.3},{"j":31,"f":6.9,"n":2,"a":218.3},{"j":31,"f":6.9,"n":2.2,"a":206.7},{"j":31,"f":6.9,"n":2.5,"a":191.4},{"j":31,"f":6.9,"n":2.8,"a":178.2},{"j":31,"f":6.9,"n":3.1,"a":166.7},{"j":31,"f":6.9,"n":3.5,"a":153.5},
{"j":31.5,"f":7.01,"n":1.575,"a":246},{"j":31.5,"f":7.01,"n":1.775,"a":231.3},{"j":31.5,"f":7.01,"n":1.975,"a":218.3},{"j":31.5,"f":7.01,"n":2.175,"a":206.7},{"j":31.5,"f":7.01,"n":2.475,"a":191.4},{"j":31.5,"f":7.01,"n":2.775,"a":178.2},{"j":31.5,"f":7.01,"n":3.075,"a":166.7},{"j":31.5,"f":7.01,"n":3.475,"a":153.5},{"j":31.5,"f":7.01,"n":3.525,"a":152},
{"j":32,"f":7.12,"n":1.6,"a":242.2},{"j":32,"f":7.12,"n":1.8,"a":227.9},{"j":32,"f":7.12,"n":2,"a":215.3},{"j":32,"f":7.12,"n":2.2,"a":203.9},{"j":32,"f":7.12,"n":2.5,"a":189},{"j":32,"f":7.12,"n":2.8,"a":176.1},{"j":32,"f":7.12,"n":3.1,"a":164.9},{"j":32,"f":7.12,"n":3.5,"a":152},
{"j":32.5,"f":7.23,"n":1.625,"a":238.5},{"j":32.5,"f":7.23,"n":1.775,"a":227.9},{"j":32.5,"f":7.23,"n":1.975,"a":215.3},{"j":32.5,"f":7.23,"n":2.175,"a":203.9},{"j":32.5,"f":7.23,"n":2.475,"a":189},{"j":32.5,"f":7.23,"n":2.775,"a":176.1},{"j":32.5,"f":7.23,"n":3.075,"a":164.9},{"j":32.5,"f":7.23,"n":3.475,"a":152},{"j":32.5,"f":7.23,"n":3.525,"a":150.5},
{"j":33,"f":7.34,"n":1.65,"a":234.8},{"j":33,"f":7.34,"n":1.8,"a":224.6},{"j":33,"f":7.34,"n":2,"a":212.3},{"j":33,"f":7.34,"n":2.2,"a":201.3},{"j":33,"f":7.34,"n":2.5,"a":186.7},{"j":33,"f":7.34,"n":2.8,"a":174.2},{"j":33,"f":7.34,"n":3.1,"a":163.2},{"j":33,"f":7.34,"n":3.5,"a":150.5},
{"j":33.5,"f":7.46,"n":1.675,"a":231.3},{"j":33.5,"f":7.46,"n":1.775,"a":224.6},{"j":33.5,"f":7.46,"n":1.975,"a":212.3},{"j":33.5,"f":7.46,"n":2.175,"a":201.3},{"j":33.5,"f":7.46,"n":2.475,"a":186.7},{"j":33.5,"f":7.46,"n":2.775,"a":174.2},{"j":33.5,"f":7.46,"n":3.075,"a":163.2},{"j":33.5,"f":7.46,"n":3.475,"a":150.5},{"j":33.5,"f":7.46,"n":3.525,"a":149},
{"j":34,"f":7.57,"n":1.7,"a":227.9},{"j":34,"f":7.57,"n":1.8,"a":221.4},{"j":34,"f":7.57,"n":2,"a":209.5},{"j":34,"f":7.57,"n":2.2,"a":198.7},{"j":34,"f":7.57,"n":2.5,"a":184.5},{"j":34,"f":7.57,"n":2.8,"a":172.2},{"j":34,"f":7.57,"n":3.1,"a":161.5},{"j":34,"f":7.57,"n":3.5,"a":149},
{"j":34.5,"f":7.68,"n":1.725,"a":224.6},{"j":34.5,"f":7.68,"n":1.775,"a":221.4},{"j":34.5,"f":7.68,"n":1.975,"a":209.5},{"j":34.5,"f":7.68,"n":2.175,"a":198.7},{"j":34.5,"f":7.68,"n":2.475,"a":184.5},{"j":34.5,"f":7.68,"n":2.775,"a":172.2},{"j":34.5,"f":7.68,"n":3.075,"a":161.5},{"j":34.5,"f":7.68,"n":3.475,"a":149},{"j":34.5,"f":7.68,"n":3.525,"a":147.6},
{"j":35,"f":7.79,"n":1.75,"a":221.4},{"j":35,"f":7.79,"n":1.8,"a":218.3},{"j":35,"f":7.79,"n":2,"a":206.7},{"j":35,"f":7.79,"n":2.2,"a":196.2},{"j":35,"f":7.79,"n":2.5,"a":182.4},{"j":35,"f":7.79,"n":2.8,"a":170.3},{"j":35,"f":7.79,"n":3.1,"a":159.8},{"j":35,"f":7.79,"n":3.5,"a":147.6},
{"j":35.5,"f":7.9,"n":1.775,"a":218.3},{"j":35.5,"f":7.9,"n":1.975,"a":206.7},{"j":35.5,"f":7.9,"n":2.175,"a":196.2},{"j":35.5,"f":7.9,"n":2.475,"a":182.4},{"j":35.5,"f":7.9,"n":2.775,"a":170.3},{"j":35.5,"f":7.9,"n":3.075,"a":159.8},{"j":35.5,"f":7.9,"n":3.475,"a":147.6},{"j":35.5,"f":7.9,"n":3.525,"a":146.2},
{"j":36,"f":8.01,"n":1.8,"a":215.3},{"j":36,"f":8.01,"n":2,"a":203.9},{"j":36,"f":8.01,"n":2.2,"a":193.8},{"j":36,"f":8.01,"n":2.5,"a":180.2},{"j":36,"f":8.01,"n":2.8,"a":168.5},{"j":36,"f":8.01,"n":3.1,"a":158.2},{"j":36,"f":8.01,"n":3.5,"a":146.2},
{"j":36.5,"f":8.12,"n":1.825,"a":212.3},{"j":36.5,"f":8.12,"n":1.975,"a":203.9},{"j":36.5,"f":8.12,"n":2.175,"a":193.8},{"j":36.5,"f":8.12,"n":2.475,"a":180.2},{"j":36.5,"f":8.12,"n":2.775,"a":168.5},{"j":36.5,"f":8.12,"n":3.075,"a":158.2},{"j":36.5,"f":8.12,"n":3.475,"a":146.2},{"j":36.5,"f":8.12,"n":3.525,"a":144.9},
{"j":37,"f":8.23,"n":1.85,"a":209.5},{"j":37,"f":8.23,"n":2,"a":201.3},{"j":37,"f":8.23,"n":2.2,"a":191.4},{"j":37,"f":8.23,"n":2.5,"a":178.2},{"j":37,"f":8.23,"n":2.8,"a":166.7},{"j":37,"f":8.23,"n":3.1,"a":156.6},{"j":37,"f":8.23,"n":3.5,"a":144.9},
{"j":37.5,"f":8.34,"n":1.875,"a":206.7},{"j":37.5,"f":8.34,"n":1.975,"a":201.3},{"j":37.5,"f":8.34,"n":2.175,"a":191.4},{"j":37.5,"f":8.34,"n":2.475,"a":178.2},{"j":37.5,"f":8.34,"n":2.775,"a":166.7},{"j":37.5,"f":8.34,"n":3.075,"a":156.6},{"j":37.5,"f":8.34,"n":3.475,"a":144.9},{"j":37.5,"f":8.34,"n":3.525,"a":143.5},
{"j":38,"f":8.45,"n":1.9,"a":203.9},{"j":38,"f":8.45,"n":2,"a":198.7},{"j":38,"f":8.45,"n":2.2,"a":189},{"j":38,"f":8.45,"n":2.5,"a":176.1},{"j":38,"f":8.45,"n":2.8,"a":164.9},{"j":38,"f":8.45,"n":3.1,"a":155},{"j":38,"f":8.45,"n":3.5,"a":143.5},
{"j":38.5,"f":8.56,"n":1.925,"a":201.3},{"j":38.5,"f":8.56,"n":1.975,"a":198.7},{"j":38.5,"f":8.56,"n":2.175,"a":189},{"j":38.5,"f":8.56,"n":2.475,"a":176.1},{"j":38.5,"f":8.56,"n":2.775,"a":164.9},{"j":38.5,"f":8.56,"n":3.075,"a":155},{"j":38.5,"f":8.56,"n":3.475,"a":143.5},{"j":38.5,"f":8.56,"n":3.525,"a":142.2},
{"j":39,"f":8.67,"n":1.95,"a":198.7},{"j":39,"f":8.67,"n":2,"a":196.2},{"j":39,"f":8.67,"n":2.2,"a":186.7},{"j":39,"f":8.67,"n":2.5,"a":174.2},{"j":39,"f":8.67,"n":2.8,"a":163.2},{"j":39,"f":8.67,"n":3.1,"a":153.5},{"j":39,"f":8.67,"n":3.5,"a":142.2},
{"j":39.5,"f":8.78,"n":1.975,"a":196.2},{"j":39.5,"f":8.78,"n":2.175,"a":186.7},{"j":39.5,"f":8.78,"n":2.475,"a":174.2},{"j":39.5,"f":8.78,"n":2.775,"a":163.2},{"j":39.5,"f":8.78,"n":3.075,"a":153.5},{"j":39.5,"f":8.78,"n":3.475,"a":142.2},{"j":39.5,"f":8.78,"n":3.525,"a":140.9},
{"j":40,"f":8.89,"n":2,"a":193.8},{"j":40,"f":8.89,"n":2.2,"a":184.5},{"j":40,"f":8.89,"n":2.5,"a":172.2},{"j":40,"f":8.89,"n":2.8,"a":161.5},{"j":40,"f":8.89,"n":3.1,"a":152},{"j":40,"f":8.89,"n":3.5,"a":140.9},
{"j":40.5,"f":9,"n":2.025,"a":191.4},{"j":40.5,"f":9,"n":2.175,"a":184.5},{"j":40.5,"f":9,"n":2.475,"a":172.2},{"j":40.5,"f":9,"n":2.775,"a":161.5},{"j":40.5,"f":9,"n":3.075,"a":152},{"j":40.5,"f":9,"n":3.475,"a":140.9},{"j":40.5,"f":9,"n":3.525,"a":139.6},
{"j":41,"f":9.11,"n":2.05,"a":189},{"j":41,"f":9.11,"n":2.2,"a":182.4},{"j":41,"f":9.11,"n":2.5,"a":170.3},{"j":41,"f":9.11,"n":2.8,"a":159.8},{"j":41,"f":9.11,"n":3.1,"a":150.5},{"j":41,"f":9.11,"n":3.5,"a":139.6},
{"j":41.5,"f":9.22,"n":2.075,"a":186.7},{"j":41.5,"f":9.22,"n":2.175,"a":182.4},{"j":41.5,"f":9.22,"n":2.475,"a":170.3},{"j":41.5,"f":9.22,"n":2.775,"a":159.8},{"j":41.5,"f":9.22,"n":3.075,"a":150.5},{"j":41.5,"f":9.22,"n":3.475,"a":139.6},{"j":41.5,"f":9.22,"n":3.525,"a":138.4},
{"j":42,"f":9.33,"n":2.1,"a":184.5},{"j":42,"f":9.33,"n":2.2,"a":180.2},{"j":42,"f":9.33,"n":2.5,"a":168.5},{"j":42,"f":9.33,"n":2.8,"a":158.2},{"j":42,"f":9.33,"n":3.1,"a":149},{"j":42,"f":9.33,"n":3.5,"a":138.4},
{"j":42.5,"f":9.44,"n":2.125,"a":182.4},{"j":42.5,"f":9.44,"n":2.175,"a":180.2},{"j":42.5,"f":9.44,"n":2.475,"a":168.5},{"j":42.5,"f":9.44,"n":2.775,"a":158.2},{"j":42.5,"f":9.44,"n":3.075,"a":149},{"j":42.5,"f":9.44,"n":3.475,"a":138.4},{"j":42.5,"f":9.44,"n":3.525,"a":137.2},
{"j":43,"f":9.55,"n":2.15,"a":180.2},{"j":43,"f":9.55,"n":2.2,"a":178.2},{"j":43,"f":9.55,"n":2.5,"a":166.7},{"j":43,"f":9.55,"n":2.8,"a":156.6},{"j":43,"f":9.55,"n":3.1,"a":147.6},{"j":43,"f":9.55,"n":3.5,"a":137.2},
{"j":43.5,"f":9.66,"n":2.175,"a":178.2},{"j":43.5,"f":9.66,"n":2.475,"a":166.7},{"j":43.5,"f":9.66,"n":2.775,"a":156.6},{"j":43.5,"f":9.66,"n":3.075,"a":147.6},{"j":43.5,"f":9.66,"n":3.475,"a":137.2},{"j":43.5,"f":9.66,"n":3.525,"a":136},
{"j":44,"f":9.77,"n":2.2,"a":176.1},{"j":44,"f":9.77,"n":2.5,"a":164.9},{"j":44,"f":9.77,"n":2.8,"a":155},{"j":44,"f":9.77,"n":3.1,"a":146.2},{"j":44,"f":9.77,"n":3.5,"a":136},
{"j":44.5,"f":9.89,"n":2.225,"a":174.2},{"j":44.5,"f":9.89,"n":2.475,"a":164.9},{"j":44.5,"f":9.89,"n":2.775,"a":155},{"j":44.5,"f":9.89,"n":3.075,"a":146.2},{"j":44.5,"f":9.89,"n":3.475,"a":136},{"j":44.5,"f":9.89,"n":3.525,"a":134.8},
{"j":45,"f":10,"n":2.25,"a":172.2},{"j":45,"f":10,"n":2.5,"a":163.2},{"j":45,"f":10,"n":2.8,"a":153.5},{"j":45,"f":10,"n":3.1,"a":144.9},{"j":45,"f":10,"n":3.5,"a":134.8},
{"j":45.5,"f":10.11,"n":2.275,"a":170.3},{"j":45.5,"f":10.11,"n":2.475,"a":163.2},{"j":45.5,"f":10.11,"n":2.775,"a":153.5},{"j":45.5,"f":10.11,"n":3.075,"a":144.9},{"j":45.5,"f":10.11,"n":3.475,"a":134.8},{"j":45.5,"f":10.11,"n":3.525,"a":133.6},
{"j":46,"f":10.22,"n":2.3,"a":168.5},{"j":46,"f":10.22,"n":2.5,"a":161.5},{"j":46,"f":10.22,"n":2.8,"a":152},{"j":46,"f":10.22,"n":3.1,"a":143.5},{"j":46,"f":10.22,"n":3.5,"a":133.6},
{"j":46.5,"f":10.33,"n":2.325,"a":166.7},{"j":46.5,"f":10.33,"n":2.475,"a":161.5},{"j":46.5,"f":10.33,"n":2.775,"a":152},{"j":46.5,"f":10.33,"n":3.075,"a":143.5},{"j":46.5,"f":10.33,"n":3.475,"a":133.6},{"j":46.5,"f":10.33,"n":3.525,"a":132.5},
{"j":47,"f":10.44,"n":2.35,"a":164.9},{"j":47,"f":10.44,"n":2.5,"a":159.8},{"j":47,"f":10.44,"n":2.8,"a":150.5},{"j":47,"f":10.44,"n":3.1,"a":142.2},{"j":47,"f":10.44,"n":3.5,"a":132.5},
{"j":47.5,"f":10.55,"n":2.375,"a":163.2},{"j":47.5,"f":10.55,"n":2.475,"a":159.8},{"j":47.5,"f":10.55,"n":2.775,"a":150.5},{"j":47.5,"f":10.55,"n":3.075,"a":142.2},{"j":47.5,"f":10.55,"n":3.475,"a":132.5},{"j":47.5,"f":10.55,"n":3.525,"a":131.4},
{"j":48,"f":10.66,"n":2.4,"a":161.5},{"j":48,"f":10.66,"n":2.5,"a":158.2},{"j":48,"f":10.66,"n":2.8,"a":149},{"j":48,"f":10.66,"n":3.1,"a":140.9},{"j":48,"f":10.66,"n":3.5,"a":131.4},
{"j":48.5,"f":10.77,"n":2.425,"a":159.8},{"j":48.5,"f":10.77,"n":2.475,"a":158.2},{"j":48.5,"f":10.77,"n":2.775,"a":149},{"j":48.5,"f":10.77,"n":3.075,"a":140.9},{"j":48.5,"f":10.77,"n":3.475,"a":131.4},{"j":48.5,"f":10.77,"n":3.525,"a":130.3},
{"j":49,"f":10.88,"n":2.45,"a":158.2},{"j":49,"f":10.88,"n":2.5,"a":156.6},{"j":49,"f":10.88,"n":2.8,"a":147.6},{"j":49,"f":10.88,"n":3.1,"a":139.6},{"j":49,"f":10.88,"n":3.5,"a":130.3},
{"j":49.5,"f":10.99,"n":2.475,"a":156.6},{"j":49.5,"f":10.99,"n":2.775,"a":147.6},{"j":49.5,"f":10.99,"n":3.075,"a":139.6},{"j":49.5,"f":10.99,"n":3.475,"a":130.3},{"j":49.5,"f":10.99,"n":3.525,"a":129.2},
{"j":50,"f":11.1,"n":2.5,"a":155},{"j":50,"f":11.1,"n":2.8,"a":146.2},{"j":50,"f":11.1,"n":3.1,"a":138.4},{"j":50,"f":11.1,"n":3.5,"a":129.2},
{"j":50.5,"f":11.21,"n":2.525,"a":153.5},{"j":50.5,"f":11.21,"n":2.775,"a":146.2},{"j":50.5,"f":11.21,"n":3.075,"a":138.4},{"j":50.5,"f":11.21,"n":3.475,"a":129.2},{"j":50.5,"f":11.21,"n":3.525,"a":128.1},
{"j":51,"f":11.32,"n":2.55,"a":152},{"j":51,"f":11.32,"n":2.8,"a":144.9},{"j":51,"f":11.32,"n":3.1,"a":137.2},{"j":51,"f":11.32,"n":3.5,"a":128.1}
]},
"mark":{"type":"area","interpolate":"monotone","clip":true,"opacity":1,"line":false},
"encoding":{
"x":{"field":"n","type":"quantitative","scale":{"domain":[1.4427,3.4799],"nice":false,"zero":false},"axis":{"orient":"bottom","values":[1.5,2,2.5,3],"format":"~g","title":null,"grid":false,"domain":true,"domainColor":"#262626","domainWidth":5,"domainCap":"square","ticks":true,"tickSize":-15,"tickWidth":4,"tickColor":"#262626","labels":true,"labelFont":"Liberation Serif","labelFontSize":72,"labelColor":"#262626","labelPadding":48.5,"labelFlush":false,"labelOverlap":false,"zindex":1}},
"y":{"field":"a","type":"quantitative","scale":{"domain":[150,375],"nice":false,"zero":false},"axis":{"orient":"left","values":[150,200,250,300,350],"format":"d","title":null,"grid":false,"domain":true,"domainColor":"#262626","domainWidth":5,"domainCap":"square","ticks":true,"tickSize":-15,"tickWidth":4,"tickColor":"#262626","labels":true,"labelFont":"Liberation Serif","labelFontSize":72,"labelColor":"#262626","labelPadding":44,"labelFlush":false,"labelOverlap":false,"zindex":1}},
"y2":{"datum":150},
"detail":{"field":"j","type":"nominal"},
"color":{"field":"f","type":"quantitative","scale":{"scheme":"redblue","reverse":true,"domain":[0,11.34],"clamp":true},"legend":null}}},
{"data":{"values":[{"n":2,"a":387.5},{"n":2.1,"a":369.05},{"n":2.2,"a":352.27},{"n":2.4,"a":322.92},{"n":2.6,"a":298.08},{"n":2.8,"a":276.79},{"n":3,"a":258.33},{"n":3.2,"a":242.19},{"n":3.4,"a":227.94},{"n":3.5,"a":221.43}]},
"mark":{"type":"line","interpolate":"monotone","clip":true,"color":"white","strokeWidth":5},
"encoding":{
"x":{"field":"n","type":"quantitative","scale":{"domain":[1.4427,3.4799],"nice":false,"zero":false},"axis":{"orient":"top","values":[1.5,2,2.5,3],"labels":false,"title":null,"grid":false,"domain":true,"domainColor":"#262626","domainWidth":5,"domainCap":"square","ticks":true,"tickSize":-15,"tickWidth":4,"tickColor":"#262626","zindex":1}},
"y":{"field":"a","type":"quantitative","scale":{"domain":[150,375],"nice":false,"zero":false},"axis":{"orient":"right","values":[150,200,250,300,350],"labels":false,"title":null,"grid":false,"domain":true,"domainColor":"#262626","domainWidth":5,"domainCap":"square","ticks":true,"tickSize":-15,"tickWidth":4,"tickColor":"#262626","zindex":1}}}},
{"data":{"values":[{"n":1.4,"a":306.12},{"n":1.6,"a":283.71},{"n":1.8,"a":264.35},{"n":2,"a":247.47},{"n":2.2,"a":232.61},{"n":2.4,"a":219.44},{"n":2.6,"a":207.68},{"n":2.8,"a":197.11},{"n":3,"a":187.57},{"n":3.2,"a":178.91},{"n":3.5,"a":167.32}]},
"mark":{"type":"line","interpolate":"monotone","clip":true,"color":"#c83a3c","strokeWidth":4}},
{"data":{"values":[{"n":1.4,"a":276.79},{"n":1.5,"a":258.33},{"n":1.6,"a":242.19},{"n":1.7,"a":227.94},{"n":1.8,"a":215.28},{"n":1.9,"a":203.95},{"n":2,"a":193.75},{"n":2.1,"a":184.52},{"n":2.2,"a":176.14},{"n":2.3,"a":168.48},{"n":2.4,"a":161.46},{"n":2.5,"a":155},{"n":2.6,"a":149.04}]},
"mark":{"type":"line","interpolate":"monotone","clip":true,"color":"#283c6e","strokeWidth":4}},
{"data":{"values":[{"n":2.0559,"a":189.12}]},
"mark":{"type":"point","shape":"M0,-1L0.2245,-0.309L0.9511,-0.309L0.3633,0.118L0.5878,0.809L0,0.382L-0.5878,0.809L-0.3633,0.118L-0.9511,-0.309L-0.2245,-0.309Z","size":6400,"filled":true,"opacity":1,"color":"black","strokeWidth":0}},
{"data":{"values":[{"n":2.5413,"a":329.86,"t":"k"},{"n":2.8755,"a":295.69,"t":"π"},{"n":3.0296,"a":277.59,"t":"a"}]},"mark":{"type":"text","font":"Liberation Serif","fontSize":90,"fontStyle":"italic","angle":56,"align":"center","baseline":"middle","color":"white"},"encoding":{"text":{"field":"t"}}},
{"data":{"values":[{"n":2.7244,"a":309.11,"t":"="},{"n":2.9598,"a":286.33,"t":"/"}]},"mark":{"type":"text","font":"Liberation Serif","fontSize":90,"angle":56,"align":"center","baseline":"middle","color":"white"},"encoding":{"text":{"field":"t"}}},
{"data":{"values":[{"n":2.5326,"a":320.3,"t":"o"}]},"mark":{"type":"text","font":"Liberation Serif","fontSize":63,"angle":56,"align":"center","baseline":"middle","color":"white"},"encoding":{"text":{"field":"t"}}},
{"data":{"values":[{"n":2.303,"a":238.95,"t":"5 GHz"}]},"mark":{"type":"text","font":"Liberation Serif","fontSize":80,"angle":44,"align":"center","baseline":"middle","color":"#c83a3c"},"encoding":{"text":{"field":"t"}}},
{"data":{"values":[{"n":1.5416,"a":221.25,"t":"k"},{"n":1.8553,"a":184.85,"t":"π"},{"n":1.9948,"a":167.76,"t":"a"}]},"mark":{"type":"text","font":"Liberation Serif","fontSize":90,"fontStyle":"italic","angle":59,"align":"center","baseline":"middle","color":"black"},"encoding":{"text":{"field":"t"}}},
{"data":{"values":[{"n":1.7361,"a":198.27,"t":"="},{"n":1.9308,"a":176.1,"t":"/"}]},"mark":{"type":"text","font":"Liberation Serif","fontSize":90,"angle":59,"align":"center","baseline":"middle","color":"black"},"encoding":{"text":{"field":"t"}}},
{"data":{"values":[{"n":1.5387,"a":211.69,"t":"m"}]},"mark":{"type":"text","font":"Liberation Serif","fontSize":63,"angle":59,"align":"center","baseline":"middle","color":"black"},"encoding":{"text":{"field":"t"}}},
{"data":{"values":[{"n":2.0838,"a":111.99,"t":"n"}]},"mark":{"type":"text","font":"Liberation Serif","fontSize":82,"fontStyle":"italic","align":"left","baseline":"alphabetic","color":"#262626"},"encoding":{"text":{"field":"t"}}},
{"data":{"values":[{"n":2.2175,"a":109.76,"t":"eff"}]},"mark":{"type":"text","font":"Liberation Serif","fontSize":56,"align":"left","baseline":"alphabetic","color":"#262626"},"encoding":{"text":{"field":"t"}}},
{"data":{"values":[{"n":2.5006,"a":111.79,"t":"(−)"}]},"mark":{"type":"text","font":"Liberation Serif","fontSize":85,"align":"left","baseline":"alphabetic","color":"#262626"},"encoding":{"text":{"field":"t"}}},
{"data":{"values":[{"n":0.9487,"a":240.14,"t":"a"}]},"mark":{"type":"text","font":"Liberation Serif","fontSize":85,"fontStyle":"italic","angle":270,"align":"left","baseline":"alphabetic","color":"#262626"},"encoding":{"text":{"field":"t"}}},
{"data":{"values":[{"n":0.9487,"a":253.66,"t":"(nm)"}]},"mark":{"type":"text","font":"Liberation Serif","fontSize":85,"angle":270,"align":"left","baseline":"alphabetic","color":"#262626"},"encoding":{"text":{"field":"t"}}}
]},
{"resolve":{"axis":{"x":"independent","y":"independent"}},
"layer":[
{"data":{"values":[{"f":0.05},{"f":0.15},{"f":0.25},{"f":0.35},{"f":0.45},{"f":0.55},{"f":0.65},{"f":0.75},{"f":0.85},{"f":0.95},{"f":1.05},{"f":1.15},{"f":1.25},{"f":1.35},{"f":1.45},{"f":1.55},{"f":1.65},{"f":1.75},{"f":1.85},{"f":1.95},{"f":2.05},{"f":2.15},{"f":2.25},{"f":2.35},{"f":2.45},{"f":2.55},{"f":2.65},{"f":2.75},{"f":2.85},{"f":2.95},{"f":3.05},{"f":3.15},{"f":3.25},{"f":3.35},{"f":3.45},{"f":3.55},{"f":3.65},{"f":3.75},{"f":3.85},{"f":3.95},{"f":4.05},{"f":4.15},{"f":4.25},{"f":4.35},{"f":4.45},{"f":4.55},{"f":4.65},{"f":4.75},{"f":4.85},{"f":4.95},{"f":5.05},{"f":5.15},{"f":5.25},{"f":5.35},{"f":5.45},{"f":5.55},{"f":5.65},{"f":5.75},{"f":5.85},{"f":5.95},{"f":6.05},{"f":6.15},{"f":6.25},{"f":6.35},{"f":6.45},{"f":6.55},{"f":6.65},{"f":6.75},{"f":6.85},{"f":6.95},{"f":7.05},{"f":7.15},{"f":7.25},{"f":7.35},{"f":7.45},{"f":7.55},{"f":7.65},{"f":7.75},{"f":7.85},{"f":7.95},{"f":8.05},{"f":8.15},{"f":8.25},{"f":8.35},{"f":8.45},{"f":8.55},{"f":8.65},{"f":8.75},{"f":8.85},{"f":8.95},{"f":9.05},{"f":9.15},{"f":9.25},{"f":9.35},{"f":9.45},{"f":9.55},{"f":9.65},{"f":9.75},{"f":9.85},{"f":9.95},{"f":10.05},{"f":10.15},{"f":10.25},{"f":10.35},{"f":10.45},{"f":10.55},{"f":10.65},{"f":10.75},{"f":10.85},{"f":10.95},{"f":11.05},{"f":11.15},{"f":11.25},{"f":11.29}]},
"mark":{"type":"rule","strokeWidth":10.5},
"encoding":{
"x":{"datum":1.0599,"type":"quantitative","scale":{"domain":[0,1],"nice":false,"zero":false},"axis":null},
"x2":{"datum":1.1641},
"y":{"field":"f","type":"quantitative","scale":{"domain":[0,11.34],"nice":false,"zero":false},"axis":{"orient":"right","offset":115,"values":[0,2,4,6,8,10],"title":null,"grid":false,"domain":true,"domainColor":"#262626","domainWidth":5,"domainCap":"square","ticks":true,"tickSize":-12,"tickWidth":4,"tickColor":"#262626","labels":true,"labelFont":"Liberation Serif","labelFontSize":68,"labelColor":"#262626","labelPadding":46,"labelFlush":false,"labelOverlap":false,"zindex":1}},
"color":{"field":"f","type":"quantitative","scale":{"scheme":"redblue","reverse":true,"domain":[0,11.34],"clamp":true},"legend":null}}},
{"data":{"values":[{"x":1.0635,"x2":1.0635,"f":0,"f2":11.34},{"x":1.0599,"x2":1.1641,"f":11.34,"f2":11.34},{"x":1.0599,"x2":1.1641,"f":0,"f2":0}]},
"mark":{"type":"rule","color":"#262626","strokeWidth":5,"strokeCap":"square"},
"encoding":{"x":{"field":"x","type":"quantitative","scale":{"domain":[0,1],"nice":false,"zero":false},"axis":null},"x2":{"field":"x2"},
"y":{"field":"f","type":"quantitative","scale":{"domain":[0,11.34],"nice":false,"zero":false},"axis":null},"y2":{"field":"f2"}}},
{"data":{"values":[{"x":1.3866,"f":2.786,"t":"ω"}]},
"mark":{"type":"text","font":"Liberation Serif","fontSize":78,"fontStyle":"italic","angle":270,"align":"left","baseline":"alphabetic","color":"#262626"},
"encoding":{"x":{"field":"x","type":"quantitative","scale":{"domain":[0,1],"nice":false,"zero":false},"axis":null},"y":{"field":"f","type":"quantitative","scale":{"domain":[0,11.34],"nice":false,"zero":false},"axis":null},"text":{"field":"t"}}},
{"data":{"values":[{"x":1.3866,"f":4.384,"t":"/(2π)"},{"x":1.3866,"f":6.515,"t":"(GHz)"}]},
"mark":{"type":"text","font":"Liberation Serif","fontSize":78,"angle":270,"align":"left","baseline":"alphabetic","color":"#262626"},
"encoding":{"x":{"field":"x","type":"quantitative","scale":{"domain":[0,1],"nice":false,"zero":false},"axis":null},"y":{"field":"f","type":"quantitative","scale":{"domain":[0,11.34],"nice":false,"zero":false},"axis":null},"text":{"field":"t"}}},
{"data":{"values":[{"x":1.4037,"f":3.329,"t":"SAW"}]},
"mark":{"type":"text","font":"Liberation Serif","fontSize":50,"angle":270,"align":"left","baseline":"alphabetic","color":"#262626"},
"encoding":{"x":{"field":"x","type":"quantitative","scale":{"domain":[0,1],"nice":false,"zero":false},"axis":null},"y":{"field":"f","type":"quantitative","scale":{"domain":[0,11.34],"nice":false,"zero":false},"axis":null},"text":{"field":"t"}}}
]}
]},
{"width":1697,"height":895,
"encoding":{"x":{"field":"x","type":"quantitative","scale":{"domain":[-1.312,1.5889],"nice":false,"zero":false},"axis":null},
"y":{"field":"y","type":"quantitative","scale":{"domain":[-2.38,6.57],"nice":false,"zero":false},"axis":null}},
"layer":[
{"data":{"values":[{"x":-0.93,"x2":0.93,"y":1,"y2":1}]},"mark":{"type":"rule","color":"#001eff","strokeWidth":18,"strokeCap":"butt"},"encoding":{"x2":{"field":"x2"},"y2":{"field":"y2"}}},
{"data":{"values":[{"x":-0.9992,"x2":0.93,"y":0,"y2":0}]},"mark":{"type":"rule","color":"#f00028","strokeWidth":18,"strokeCap":"butt"},"encoding":{"x2":{"field":"x2"},"y2":{"field":"y2"}}},
{"data":{"values":[{"x":0.9991,"y":1}]},"mark":{"type":"point","shape":"M0,0L-2,-1L-2,1Z","size":2500,"filled":true,"opacity":1,"color":"#001eff","strokeWidth":0}},
{"data":{"values":[{"x":-0.9992,"y":1}]},"mark":{"type":"point","shape":"M0,0L2,-1L2,1Z","size":2500,"filled":true,"opacity":1,"color":"#001eff","strokeWidth":0}},
{"data":{"values":[{"x":0.9991,"y":0}]},"mark":{"type":"point","shape":"M0,0L-2,-1L-2,1Z","size":2500,"filled":true,"opacity":1,"color":"#f00028","strokeWidth":0}},
{"data":{"values":[{"x":0,"x2":0,"y":1.375,"y2":-0.38}]},"mark":{"type":"rule","color":"black","strokeWidth":3.5,"strokeDash":[15,25]},"encoding":{"x2":{"field":"x2"},"y2":{"field":"y2"}}},
{"data":{"values":[{"x":-1.0197,"y":3.07,"t":"Phase matching for counter-propagating"},{"x":-1.0197,"y":2.18,"t":"mechanical and optical fields"}]},"mark":{"type":"text","font":"Open Sans","fontSize":66,"align":"left","baseline":"alphabetic","color":"black"},"encoding":{"text":{"field":"t"}}},
{"data":{"values":[{"x":-1.2419,"y":0.74,"t":"k"},{"x":1.0778,"y":0.83,"t":"k"},{"x":1.0692,"y":-0.7,"t":"k"},{"x":-0.4453,"y":-2.12,"t":"k"},{"x":0.1752,"y":-2.12,"t":"k"}]},"mark":{"type":"text","font":"Liberation Serif","fontSize":128,"fontStyle":"italic","align":"left","baseline":"alphabetic","color":"black"},"encoding":{"text":{"field":"t"}}},
{"data":{"values":[{"x":-1.141,"y":0.42,"t":"o"},{"x":1.1821,"y":0.64,"t":"o"},{"x":1.165,"y":-0.89,"t":"m"},{"x":-0.3444,"y":-2.32,"t":"m"},{"x":0.2863,"y":-2.32,"t":"o"}]},"mark":{"type":"text","font":"Liberation Serif","fontSize":85,"align":"left","baseline":"alphabetic","color":"black"},"encoding":{"text":{"field":"t"}}},
{"data":{"values":[{"x":-1.1325,"y":0.74,"t":"′"},{"x":0.0812,"y":-2.12,"t":"2"}]},"mark":{"type":"text","font":"Liberation Serif","fontSize":128,"align":"left","baseline":"alphabetic","color":"black"},"encoding":{"text":{"field":"t"}}},
{"data":{"values":[{"x":-0.139,"y":-2.12,"t":"≈"}]},"mark":{"type":"text","font":"Liberation Serif","fontSize":150,"align":"left","baseline":"alphabetic","color":"black"},"encoding":{"text":{"field":"t"}}}
]},
{"width":701,"height":895,
"encoding":{"x":{"field":"x","type":"quantitative","scale":{"domain":[0,7.01],"nice":false,"zero":false},"axis":null},
"y":{"field":"y","type":"quantitative","scale":{"domain":[0,8.95],"reverse":true,"nice":false,"zero":false},"axis":null},
"text":{"field":"t"}},
"layer":[
{"data":{"values":[{"x":0.545,"y":3.545,"t":"Requirements for clamped"},{"x":0.545,"y":4.23,"t":"optomechanics"},{"x":1.05,"y":5.25,"t":"No leakage to continuum"},{"x":1.05,"y":6.26,"t":"Modes at desired frequencies"},{"x":1.05,"y":7.276,"t":"Modes strongly coupled"}]},
"mark":{"type":"text","font":"Open Sans","fontSize":65,"align":"left","baseline":"alphabetic","color":"black"}},
{"data":{"values":[{"x":0.545,"y":5.25,"t":"•"},{"x":0.545,"y":6.26,"t":"•"},{"x":0.545,"y":7.276,"t":"•"}]},
"mark":{"type":"text","font":"Open Sans","fontSize":65,"align":"left","baseline":"alphabetic","color":"black"}}
]}
]
}
